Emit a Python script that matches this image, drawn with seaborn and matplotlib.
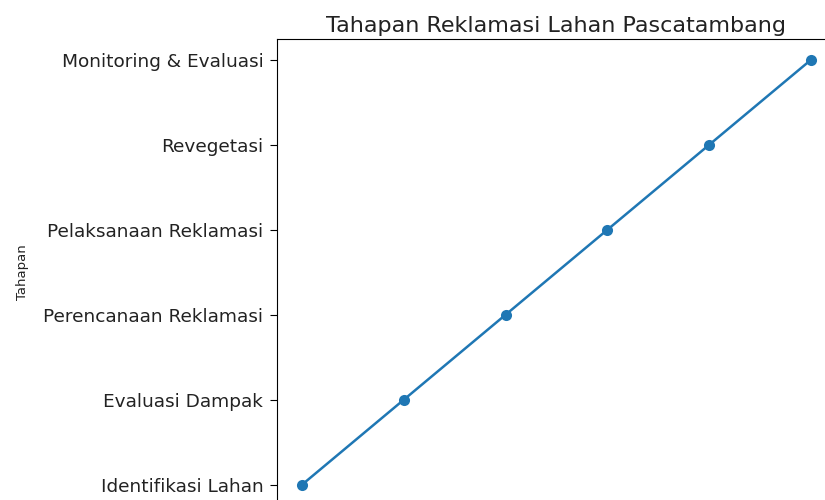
import matplotlib
matplotlib.use("Agg")
import matplotlib.pyplot as plt
import seaborn as sns
import pandas as pd

# Tahapan reklamasi (urutan langkah)
tahapan = [
    "Identifikasi Lahan",
    "Evaluasi Dampak",
    "Perencanaan Reklamasi",
    "Pelaksanaan Reklamasi",
    "Revegetasi",
    "Monitoring & Evaluasi",
]
langkah = [1, 2, 3, 4, 5, 6]

data = pd.DataFrame({"Langkah": langkah, "Tahapan": tahapan})

fig = plt.figure(figsize=(8.25, 5), dpi=100)
# axes run past the right and bottom edge, like the cropped reference
ax = fig.add_axes([276.5 / 825, -6 / 500, 560 / 825, 467.5 / 500])

sns.lineplot(
    data=data,
    x="Langkah",
    y="Tahapan",
    marker="o",
    markersize=8,
    markeredgewidth=0,
    color="#1f77b4",
    linewidth=1.8,
    estimator=None,
    sort=False,
    ax=ax,
)
# seaborn flips a categorical y axis; put the first step at the bottom
ax.invert_yaxis()

ax.set_title("Tahapan Reklamasi Lahan Pascatambang", fontsize=16, color="#222222", pad=5)
ax.set_ylabel("Tahapan", fontsize=9.5, color="#222222", labelpad=10)
ax.set_xlabel("")
ax.tick_params(axis="y", labelsize=13.3, labelcolor="#222222", length=5, pad=4.5)
ax.tick_params(axis="x", labelbottom=False)

fig.savefig("out.png", dpi=100)
